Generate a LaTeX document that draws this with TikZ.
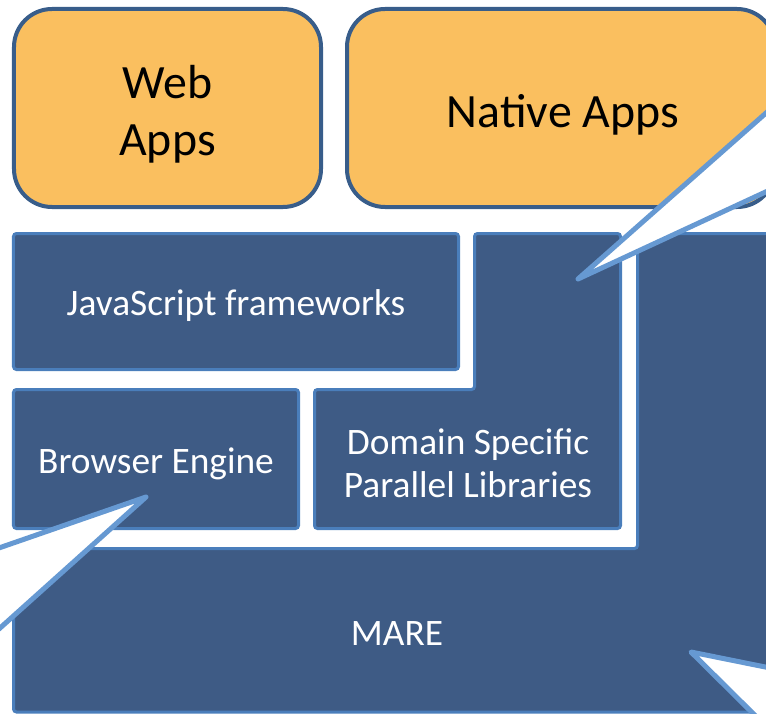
\documentclass[tikz,border=0pt]{standalone}
\usepackage{fontspec}
\setmainfont{Carlito}
\usetikzlibrary{positioning}
\definecolor{appfill}{RGB}{250,191,95}
\definecolor{appline}{RGB}{56,93,138}
\definecolor{layerfill}{RGB}{62,91,133}
\definecolor{layerline}{RGB}{74,126,187}
\definecolor{calloutline}{RGB}{102,153,210}
\tikzset{
  appbox/.style={rectangle,rounded corners=38bp,draw=appline,fill=appfill,
                 line width=4bp},
  apptext/.style={text=black,align=center,font=\fontsize{48}{57}\selectfont},
  layer/.style={rectangle,draw=layerline,fill=layerfill,line width=3bp,
                rounded corners=3bp},
  layertext/.style={text=white,align=center,
                    font=\fontsize{37.5}{43}\selectfont},
  callout/.style={draw=calloutline,fill=white,line width=5bp,line join=round},
}
\begin{document}
\begin{tikzpicture}[x=1bp,y=-1bp]
  \useasboundingbox (0,0) rectangle (766,714);
  \clip (0,0) rectangle (766,714);
  % application tier
  \node[appbox,minimum width=307bp,minimum height=198bp]
    (web) at (167.5,108) {};
  \node[apptext] (webtxt) at ([yshift=-6bp]web.center) {Web\\Apps};
  \node[appbox,minimum width=428bp,minimum height=198bp]
    (native) at (561,108) {};
  \node[apptext] (nativetxt) at (563,115) {Native Apps};
  % software layers
  \node[layer,minimum width=445bp,minimum height=136bp]
    (js) at (236,301.5) {};
  \node[layertext] (jstxt) at ([yshift=-4bp]js.center) {JavaScript frameworks};
  \node[layer,minimum width=285bp,minimum height=139bp]
    (browser) at (156,459) {};
  \node[layertext] (browsertxt) at ([yshift=-5bp]browser.center) {Browser Engine};
  \draw[layer] (474.5,233.5) -- (620.5,233.5) -- (620.5,528.5)
    -- (314.5,528.5) -- (314.5,389.5) -- (474.5,389.5) -- cycle;
  \node[layertext] (dsl) at (468,463) {Domain Specific\\Parallel Libraries};
  \draw[layer] (637.5,233.5) -- (790,233.5) -- (790,712)
    -- (13.5,712) -- (13.5,548.5) -- (637.5,548.5) -- cycle;
  \node[layertext] (mare) at (397,634) {MARE};
  % callouts
  \coordinate (nativetip) at (578,279);
  \coordinate (browsertip) at (146,497);
  \coordinate (maretip) at (691,652);
  \draw[callout] (nativetip) -- (800,83) -- (800,176) -- cycle;
  \draw[callout] (browsertip) -- (-30,558) -- (-30,655) -- cycle;
  \draw[callout] (maretip) -- (800,674) -- (800,760) -- cycle;
\end{tikzpicture}
\end{document}
